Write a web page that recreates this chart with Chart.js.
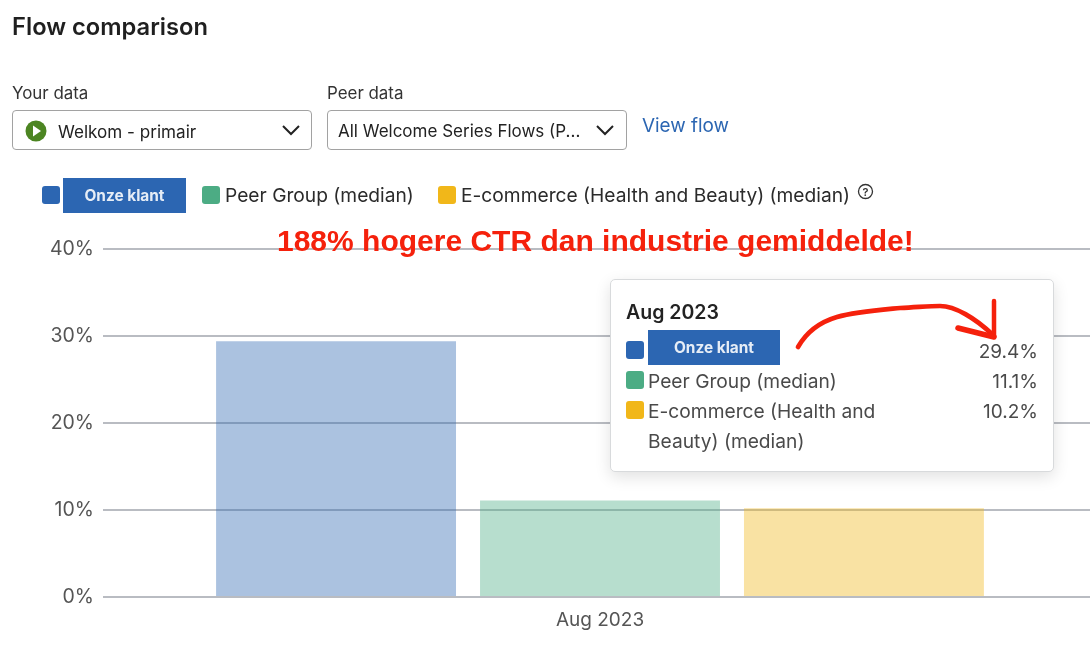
<!DOCTYPE html>
<html>
<head>
<meta charset="utf-8">
<title>Flow comparison</title>
<script src="https://cdn.jsdelivr.net/npm/chart.js@4/dist/chart.umd.min.js"></script>
<style>
    html, body { margin: 0; padding: 0; background: #fff; }
    body { width: 1090px; height: 649px; position: relative; overflow: hidden; font-family: Inter, "Noto Sans", sans-serif; color: #222; }
    #flowChart { position: absolute; left: 0; top: 0; }
    .abs { position: absolute; white-space: nowrap; }
    .label { font-size: 16.9px; color: #333; }
    .select { box-sizing: border-box; height: 40px; border: 1px solid #a2a2a2; border-radius: 4px; background: #fff; }
    .swatch { position: absolute; width: 18px; height: 18px; border-radius: 3px; }
    .klant { position: absolute; background: #2c66b2; color: #e6edf6; font-size: 15.4px; font-weight: 700; text-align: center; }
    .legend { font-size: 19.2px; color: #2b2b2b; }
    #tip { position: absolute; left: 610px; top: 279px; width: 444px; height: 193px; background: #fff; border: 1.5px solid #d8dadc; border-radius: 5px; box-shadow: 0 5px 16px rgba(0,0,0,.12); box-sizing: border-box; }
    .row { font-size: 19.2px; color: #4a4a4a; }
    .val { font-size: 19px; color: #4a4a4a; text-align: right; width: 80px; }
</style>
</head>
<body>
<canvas id="flowChart" width="1090" height="649"></canvas>

<div class="abs" style="left:12px;top:12px;font-size:23.7px;font-weight:600;color:#1f1f1f">Flow comparison</div>

<div class="abs label" style="left:12px;top:83px">Your data</div>
<div class="abs label" style="left:327px;top:83px">Peer data</div>
<div class="abs select" style="left:12px;top:110px;width:300px"></div>
<div class="abs select" style="left:327px;top:110px;width:300px"></div>
<svg class="abs" style="left:0;top:100px" width="640" height="60">
    <circle cx="36" cy="31" r="10.5" fill="#4c8522"/>
    <path d="M33 25.5 L41 31 L33 36.5 Z" fill="#fff"/>
    <path d="M283 26 L291 34 L299 26" fill="none" stroke="#222" stroke-width="2"/>
    <path d="M597 26 L605 34 L613 26" fill="none" stroke="#222" stroke-width="2"/>
</svg>
<div class="abs" style="left:58px;top:121px;font-size:17.1px;color:#222">Welkom - primair</div>
<div class="abs" style="left:338px;top:121px;font-size:17px;color:#222">All Welcome Series Flows (P...</div>
<div class="abs" style="left:642px;top:114px;font-size:18.9px;color:#2c66b2">View flow</div>

<div class="swatch" style="left:42px;top:186px;background:#2c66b2"></div>
<div class="klant" style="left:63px;top:178px;width:123px;height:35px;line-height:35px">Onze klant</div>
<div class="swatch" style="left:202px;top:186px;background:#4cac84"></div>
<div class="abs legend" style="left:225px;top:183px">Peer Group (median)</div>
<div class="swatch" style="left:438px;top:186px;background:#f1b719"></div>
<div class="abs legend" style="left:461px;top:183px">E-commerce (Health and Beauty) (median)</div>
<svg class="abs" style="left:857px;top:183px" width="18" height="18">
    <circle cx="8.5" cy="8.5" r="7" fill="none" stroke="#333" stroke-width="1.3"/>
    <text x="8.5" y="12.5" font-size="11" font-family="Inter" font-weight="600" text-anchor="middle" fill="#333">?</text>
</svg>

<div class="abs" style="left:277px;top:224px;font-family:'Liberation Sans',sans-serif;font-size:30px;font-weight:700;color:#f5210c">188% hogere CTR dan industrie gemiddelde!</div>

<div id="tip"></div>
<div class="abs" style="left:626px;top:300px;font-size:19.5px;font-weight:600;color:#222">Aug 2023</div>
<div class="swatch" style="left:626px;top:341px;background:#2c66b2"></div>
<div class="klant" style="left:648px;top:330px;width:132px;height:35px;line-height:35px">Onze klant</div>
<div class="swatch" style="left:626px;top:371px;background:#4cac84"></div>
<div class="abs row" style="left:648px;top:369px">Peer Group (median)</div>
<div class="swatch" style="left:626px;top:401px;background:#f1b719"></div>
<div class="abs row" style="left:648px;top:399px">E-commerce (Health and</div>
<div class="abs row" style="left:648px;top:429px">Beauty) (median)</div>
<div class="abs val" style="left:958px;top:340px">29.4%</div>
<div class="abs val" style="left:958px;top:370px">11.1%</div>
<div class="abs val" style="left:958px;top:400px">10.2%</div>

<svg class="abs" style="left:0;top:0" width="1090" height="649">
    <path d="M798 347 C806 333 820 322 837 317 C855 312 880 310 900 308 C920 307 930 306 940 306 C955 306 975 318 993 335" fill="none" stroke="#f5210c" stroke-width="4.7" stroke-linecap="round"/>
    <path d="M994 301 L994 337" fill="none" stroke="#f5210c" stroke-width="4.5" stroke-linecap="round"/>
    <path d="M958 328 L994 337" fill="none" stroke="#f5210c" stroke-width="5.5" stroke-linecap="round"/>
</svg>

<script>
// Donnees
const categories = ['Aug 2023'];
const seriesNames = ['Onze klant', 'Peer Group (median)', 'E-commerce (Health and Beauty) (median)'];
const onzeKlant = [29.4];
const peerGroup = [11.1];
const eCommerce = [10.2];
const yTicks = [0, 10, 20, 30, 40];

const ctx = document.getElementById('flowChart').getContext('2d');

new Chart(ctx, {
    type: 'bar',
    data: {
        labels: categories,
        datasets: [
            { label: seriesNames[0], data: onzeKlant, backgroundColor: 'rgba(44, 102, 178, 0.40)' },
            { label: seriesNames[1], data: peerGroup, backgroundColor: 'rgba(76, 172, 132, 0.40)' },
            { label: seriesNames[2], data: eCommerce, backgroundColor: 'rgba(241, 183, 25, 0.40)' }
        ]
    },
    options: {
        responsive: false,
        animation: false,
        layout: { padding: { top: 249, right: 0, bottom: 0, left: 0 } },
        plugins: { legend: { display: false }, tooltip: { enabled: false } },
        datasets: { bar: { categoryPercentage: 0.808, barPercentage: 0.909 } },
        scales: {
            x: {
                grid: { display: false },
                border: { display: false },
                ticks: { color: '#555', font: { family: 'Inter', size: 19 }, padding: 4 },
                afterFit: function(scale) { scale.height = 52; }
            },
            y: {
                min: 0,
                max: 40,
                afterBuildTicks: function(scale) { scale.ticks = yTicks.map(v => ({ value: v })); },
                grid: { color: '#b9bcc2', lineWidth: 2, tickLength: 7 },
                border: { display: false },
                ticks: {
                    color: '#555',
                    font: { family: 'Inter', size: 19.5 },
                    padding: 9,
                    callback: function(value) { return value + '%'; }
                },
                afterFit: function(scale) { scale.width = 110; }
            }
        }
    }
});
</script>
</body>
</html>
